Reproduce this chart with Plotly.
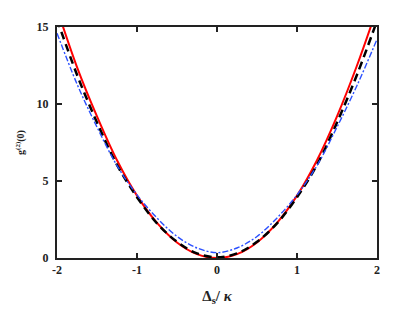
import plotly.graph_objects as go

x_vals = [-2.0, -1.75, -1.5, -1.25, -1.0, -0.75, -0.5, -0.25, 0.0,
          0.25, 0.5, 0.75, 1.0, 1.25, 1.5, 1.75, 2.0]
red_solid = [16.2, 12.4, 9.2, 6.35, 4.05, 2.28, 1.01, 0.25, 0.0,
             0.25, 1.01, 2.28, 4.05, 6.35, 9.2, 12.5, 16.2]
black_dash = [15.5, 11.9, 8.8, 6.05, 3.95, 2.25, 1.05, 0.3, 0.05,
              0.3, 1.05, 2.25, 3.95, 6.05, 8.8, 11.9, 15.4]
blue_dashdot = [14.6, 11.3, 8.5, 6.0, 4.1, 2.6, 1.4, 0.65, 0.35,
                0.65, 1.4, 2.6, 4.1, 6.0, 8.5, 11.2, 14.2]

x_ticks = [-2, -1, 0, 1, 2]
y_ticks = [0, 5, 10, 15]

fig = go.Figure()
fig.add_trace(go.Scatter(x=x_vals, y=red_solid, mode="lines", line_shape="spline",
                         line=dict(color="#ff0000", width=2), showlegend=False))
fig.add_trace(go.Scatter(x=x_vals, y=black_dash, mode="lines", line_shape="spline",
                         line=dict(color="#000000", width=2.5, dash="8px,5px"), showlegend=False))
fig.add_trace(go.Scatter(x=x_vals, y=blue_dashdot, mode="lines", line_shape="spline",
                         line=dict(color="#2b50ff", width=1.4, dash="6px,2px,2px,2px"), showlegend=False))

tickfont = dict(family="Liberation Serif", size=12, color="#222")
fig.update_layout(
    width=415, height=311,
    margin=dict(l=45, r=46, t=15, b=61),
    paper_bgcolor="white", plot_bgcolor="white",
    xaxis=dict(range=[-2, 2], tickvals=x_ticks, ticktext=["<b>-2</b>", "<b>-1</b>", "<b>0</b>", "<b>1</b>", "<b>2</b>"],
               ticks="inside", ticklen=5, tickwidth=1.5, tickcolor="#222",
               showline=True, linecolor="#222", linewidth=2, mirror="ticks",
               showgrid=False, zeroline=False, tickfont=tickfont,
               title=dict(text="<b>Δ<sub>s</sub>/ <i>κ</i></b>",
                          font=dict(family="Liberation Serif", size=15, color="#222"), standoff=14)),
    yaxis=dict(range=[0, 15], tickvals=y_ticks, ticktext=["<b>0</b>", "<b>5</b>", "<b>10</b>", "<b>15</b>"],
               ticks="inside", ticklen=5, tickwidth=1.5, tickcolor="#222",
               showline=True, linecolor="#222", linewidth=2, mirror="ticks",
               showgrid=False, zeroline=False, tickfont=tickfont, ticklabelstandoff=4,
               title=dict(text="<b>g<sup>(2)</sup>(0)</b>",
                          font=dict(family="Liberation Serif", size=10, color="#222"), standoff=10)),
)
fig.write_html("out.html")
